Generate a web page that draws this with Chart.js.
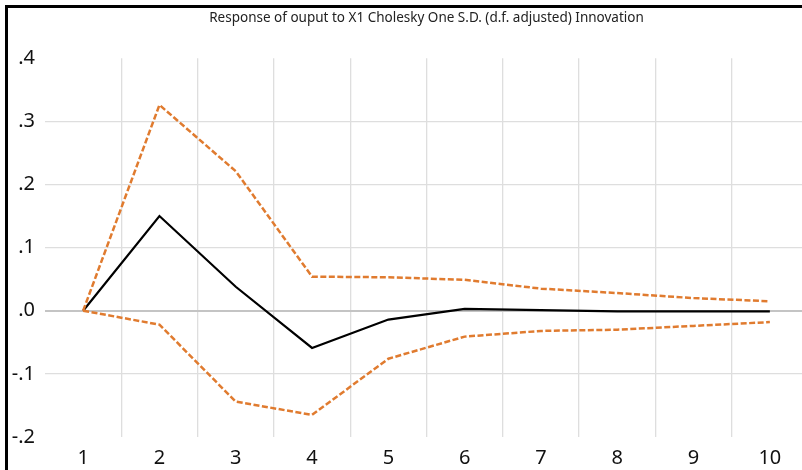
<!DOCTYPE html>
<html>
<head>
<meta charset="utf-8">
<script src="https://cdn.jsdelivr.net/npm/chart.js@4.4.1/dist/chart.umd.min.js"></script>
<style>
  html, body { margin: 0; padding: 0; background: #fff; overflow: hidden; }
  #frame {
    position: absolute; left: 5px; top: 5px;
    border-left: 3px solid #000; border-top: 3px solid #000;
    width: 812px; height: 470px;
  }
  #chart { display: block; }
</style>
</head>
<body>
<div id="frame">
  <canvas id="chart" width="812" height="470"></canvas>
</div>
<script>
// periods
const periods = ["1", "2", "3", "4", "5", "6", "7", "8", "9", "10"];
// impulse response of output to X1
const response = [0.000, 0.150, 0.038, -0.059, -0.014, 0.003, 0.001, -0.001, -0.001, -0.001];
// +/- 2 S.E. bands
const upperBand = [0.000, 0.326, 0.221, 0.054, 0.053, 0.049, 0.035, 0.028, 0.020, 0.015];
const lowerBand = [0.000, -0.022, -0.144, -0.165, -0.076, -0.041, -0.032, -0.030, -0.024, -0.018];

const titleText = "Response of ouput to X1 Cholesky One S.D. (d.f. adjusted) Innovation";
const orange = "#E07B2F";

function fmtTick(v) {
  // EViews style: .4, .0, -.1
  return v.toFixed(1).replace("0.", ".");
}

const ctx = document.getElementById("chart").getContext("2d");
new Chart(ctx, {
  type: "line",
  data: {
    labels: periods,
    datasets: [
      {
        label: "upper",
        data: upperBand,
        borderColor: orange,
        borderWidth: 2.5,
        borderDash: [6, 2.5],
        pointRadius: 0,
        tension: 0,
        fill: false
      },
      {
        label: "lower",
        data: lowerBand,
        borderColor: orange,
        borderWidth: 2.5,
        borderDash: [6, 2.5],
        pointRadius: 0,
        tension: 0,
        fill: false
      },
      {
        label: "response",
        data: response,
        borderColor: "#000",
        borderWidth: 2.2,
        pointRadius: 0,
        tension: 0,
        fill: false
      }
    ]
  },
  options: {
    responsive: false,
    animation: false,
    layout: { padding: { left: 0, right: 12, top: 0, bottom: 0 } },
    plugins: {
      legend: { display: false },
      tooltip: { enabled: false },
      title: {
        display: true,
        fullSize: false,
        text: titleText,
        color: "#222",
        font: { family: "Noto Sans", size: 13.5, weight: "normal" },
        padding: { top: 2, bottom: 32 }
      }
    },
    scales: {
      x: {
        type: "category",
        offset: true,
        grid: {
          offset: true,
          drawTicks: false,
          lineWidth: 1.3,
          color: (c) => (c.index === 0 || c.index === periods.length) ? "rgba(0,0,0,0)" : "#dedede"
        },
        border: { display: false },
        ticks: {
          color: "#111",
          padding: 9,
          maxRotation: 0,
          font: { family: "Noto Sans", size: 20 }
        },
        afterFit: (scale) => { scale.height = 41; }
      },
      y: {
        min: -0.2,
        max: 0.4,
        grid: {
          drawTicks: false,
          lineWidth: (c) => Math.abs(c.tick.value) < 1e-9 ? 2 : 1.3,
          color: (c) => {
            const v = c.tick.value;
            if (Math.abs(v - 0.4) < 1e-9 || Math.abs(v + 0.2) < 1e-9) return "rgba(0,0,0,0)";
            return Math.abs(v) < 1e-9 ? "#c4c4c4" : "#dedede";
          }
        },
        border: { display: false },
        ticks: {
          stepSize: 0.1,
          color: "#111",
          padding: 10,
          font: { family: "Noto Sans", size: 20 },
          callback: (v) => fmtTick(v)
        },
        afterFit: (scale) => { scale.width = 37; }
      }
    }
  }
});
</script>
</body>
</html>
